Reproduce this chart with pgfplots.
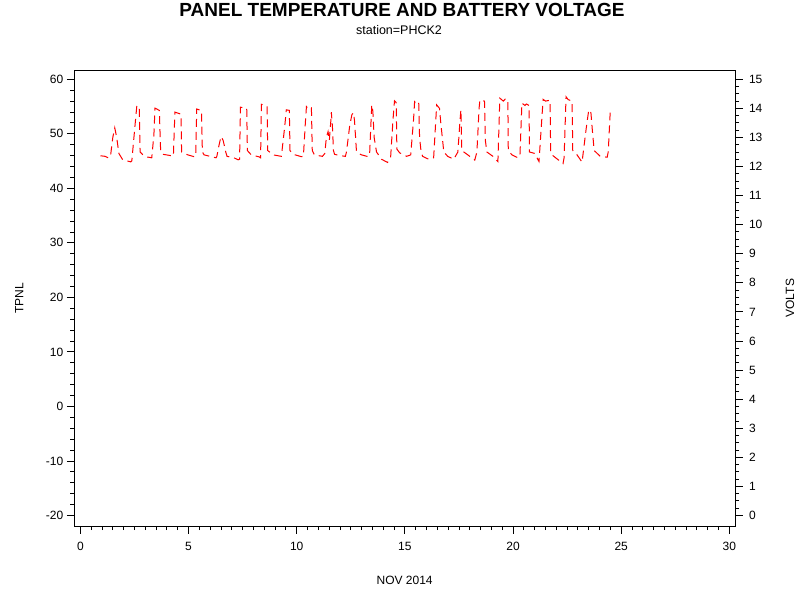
\documentclass[border=0pt]{standalone}
\usepackage{pgfplots}
\pgfplotsset{compat=1.18}
\usepackage{fontspec}
\setmainfont{Liberation Sans}

\pgfplotsset{
  sasframe/.style={
    scale only axis,
    width=660.7pt, height=455.7pt,
    at={(74.3pt,74pt)}, anchor=south west,
    xmin=-0.28, xmax=30.26,
    tick align=outside,
    major tick length=7.5pt,
    minor tick length=4pt,
    every tick/.style={black, line width=0.9pt},
    axis line style={line width=1pt},
    tick label style={font=\fontsize{12}{14}\selectfont},
    /pgf/number format/assume math mode=true,
  }
}

\begin{document}
\begin{tikzpicture}
\useasboundingbox (0,0) rectangle (800pt,600pt);

\node[font=\bfseries\fontsize{19}{22}\selectfont] at (402pt,590pt) {PANEL TEMPERATURE AND BATTERY VOLTAGE};
\node[font=\fontsize{12.5}{15}\selectfont] at (399pt,570pt) {station=PHCK2};

% left axis: TPNL (no data drawn)
\begin{axis}[
  sasframe,
  ymin=-21.93, ymax=61.65,
  xtick={0,5,...,30}, minor x tick num=9,
  ytick={-20,-10,...,60}, minor y tick num=4,
  xtick pos=bottom, ytick pos=left,
  xticklabel style={yshift=-5pt},
  xlabel={NOV 2014},
  ylabel={TPNL},
  every axis x label/.style={at={(axis description cs:0.5,0)}, yshift=-54pt, anchor=center, font=\fontsize{12}{14}\selectfont},
  every axis y label/.style={at={(axis description cs:0,0.5)}, xshift=-55pt, anchor=center, rotate=90, font=\fontsize{12}{14}\selectfont},
]
\end{axis}

% right axis: VOLTS
\begin{axis}[
  sasframe,
  ymin=-0.362, ymax=15.309,
  axis x line=none,
  axis y line*=right,
  ytick={0,1,...,15}, minor y tick num=3,
  ytick pos=right,
  yticklabel style={xshift=3pt},
  ylabel={VOLTS},
  every axis y label/.style={at={(axis description cs:1,0.5)}, xshift=55pt, anchor=center, rotate=90, font=\fontsize{12}{14}\selectfont},
]
\addplot[red, line width=1pt, dash pattern=on 8pt off 5pt] coordinates {
(0.93,12.37)(1.15,12.35)(1.31,12.29)(1.40,12.40)(1.50,13.00)(1.59,13.33)(1.68,13.00)(1.78,12.45)(1.96,12.23)(2.33,12.16)
(2.38,12.20)(2.50,13.20)(2.61,14.09)(2.72,14.06)(2.76,12.50)(2.90,12.40)(3.07,12.33)(3.30,12.30)
(3.40,13.10)(3.45,14.01)(3.65,13.93)(3.71,12.55)(3.82,12.42)(4.14,12.38)
(4.30,12.36)(4.37,13.87)(4.65,13.80)(4.68,12.50)(4.97,12.40)(5.25,12.34)
(5.33,12.35)(5.38,13.98)(5.60,13.92)(5.64,12.50)(5.72,12.40)(6.27,12.30)
(6.31,12.35)(6.40,12.70)(6.50,13.03)(6.60,12.90)(6.72,12.50)(6.78,12.35)(7.10,12.30)(7.29,12.23)
(7.36,12.25)(7.40,14.04)(7.69,14.00)(7.72,12.55)(7.90,12.40)(8.27,12.33)
(8.33,12.30)(8.37,14.14)(8.63,14.08)(8.66,12.55)(8.92,12.40)(9.29,12.35)
(9.30,12.40)(9.45,13.40)(9.52,13.95)(9.66,13.93)(9.69,12.55)(9.84,12.42)(10.21,12.34)
(10.31,12.35)(10.40,13.50)(10.45,14.06)(10.55,13.98)(10.68,14.02)(10.72,12.55)(10.82,12.40)(11.19,12.35)
(11.30,12.45)(11.37,13.00)(11.45,13.20)(11.51,12.90)(11.58,13.60)(11.60,13.87)(11.65,13.40)(11.70,12.55)(11.75,12.42)(11.97,12.38)(12.25,12.35)
(12.30,12.50)(12.45,13.40)(12.55,13.78)(12.62,13.85)(12.67,13.60)(12.76,12.55)(12.81,12.47)(13.00,12.40)(13.30,12.34)
(13.37,12.40)(13.42,13.30)(13.47,14.12)(13.52,13.90)(13.58,13.00)(13.69,12.50)(13.92,12.25)(14.20,12.14)
(14.34,12.30)(14.45,13.60)(14.52,14.26)(14.60,14.20)(14.63,12.60)(14.76,12.47)(15.08,12.35)
(15.27,12.40)(15.40,13.60)(15.45,14.23)(15.55,14.15)(15.64,14.20)(15.68,13.00)(15.75,12.50)(15.82,12.35)(16.10,12.25)
(16.33,12.30)(16.47,14.12)(16.60,14.00)(16.66,13.50)(16.80,12.50)(16.98,12.35)(17.26,12.25)
(17.45,12.50)(17.55,13.60)(17.59,13.95)(17.63,12.55)(17.91,12.40)(18.23,12.22)
(18.33,12.50)(18.43,14.00)(18.47,14.29)(18.68,14.25)(18.72,12.90)(18.79,12.50)(19.07,12.35)(19.30,12.17)
(19.39,14.35)(19.55,14.25)(19.65,14.33)(19.76,14.30)(19.78,12.55)(19.95,12.40)(20.23,12.30)
(20.32,12.40)(20.41,14.18)(20.55,14.10)(20.62,14.15)(20.74,14.10)(20.76,12.50)(21.00,12.45)(21.20,12.17)
(21.39,14.31)(21.50,14.25)(21.71,14.28)(21.74,12.50)(21.80,12.40)(22.31,12.10)
(22.36,12.30)(22.45,14.40)(22.55,14.30)(22.73,14.25)(22.76,12.55)(22.96,12.40)(23.19,12.15)
(23.38,13.30)(23.50,13.95)(23.60,13.85)(23.66,13.30)(23.75,12.55)(24.03,12.35)(24.35,12.32)
(24.40,12.50)(24.49,13.85)
};
\end{axis}
\end{tikzpicture}
\end{document}
